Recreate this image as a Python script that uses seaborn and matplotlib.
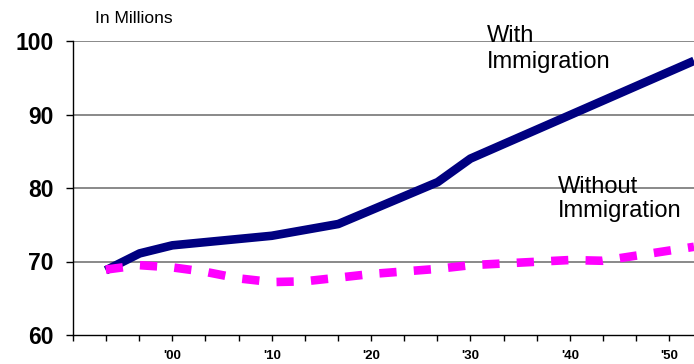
import numpy as np
import pandas as pd
import matplotlib
matplotlib.use('Agg')
import matplotlib.pyplot as plt
import seaborn as sns

# values (population, millions)
with_years = [1993.3, 1996.7, 2000.0, 2010.0, 2016.7, 2026.7, 2030.0, 2052.5]
with_pop = [68.8, 71.1, 72.2, 73.5, 75.1, 80.8, 84.0, 97.3]

without_years = [1993.3, 1996.7, 2000.0, 2003.3, 2006.7, 2010.0, 2013.3, 2016.7,
                 2020.0, 2026.7, 2030.0, 2040.0, 2043.3, 2052.5]
without_pop = [68.9, 69.5, 69.2, 68.6, 67.7, 67.2, 67.3, 67.8,
               68.3, 69.0, 69.5, 70.2, 70.1, 72.0]

decade_labels = ["'00", "'10", "'20", "'30", "'40", "'50"]
y_ticks = [60, 70, 80, 90, 100]

sns.set_style('white')
plt.rcParams['font.family'] = ['Liberation Sans', 'DejaVu Sans']
plt.rcParams['text.color'] = 'black'
plt.rcParams['xtick.color'] = 'black'
plt.rcParams['ytick.color'] = 'black'
plt.rcParams['xtick.labelcolor'] = 'black'
plt.rcParams['ytick.labelcolor'] = 'black'

df_with = pd.DataFrame({'year': with_years, 'pop': with_pop})
df_without = pd.DataFrame({'year': without_years, 'pop': without_pop})

fig = plt.figure(figsize=(6.94, 3.64), dpi=100)
ax = fig.add_axes([73 / 694, 29 / 364, 621 / 694, 294 / 364])

# grid lines
for v in y_ticks[1:]:
    ax.axhline(v, color='#808080', lw=1.3, zorder=1)

sns.lineplot(data=df_with, x='year', y='pop', ax=ax, color='#000080', lw=6.2,
             estimator=None, sort=False, solid_capstyle='butt', zorder=3)
sns.lineplot(data=df_without, x='year', y='pop', ax=ax, color='#FF00FF', lw=6.2,
             estimator=None, sort=False, ls=(0, (2, 2)), zorder=4)

ax.set_xlim(1990, 2052.5)
ax.set_ylim(60, 100)

# ticks: one every third of a decade, labels only on decades
tick_pos = [1990 + i * 10 / 3 for i in range(19)]
tick_lab = []
for i in range(19):
    if i > 0 and i % 3 == 0:
        tick_lab.append(decade_labels[i // 3 - 1])
    else:
        tick_lab.append('')
ax.set_xticks(tick_pos)
ax.set_xticklabels(tick_lab, fontsize=9.5, fontweight='bold', color='black')
ax.set_yticks(y_ticks)
ax.set_yticklabels([str(v) for v in y_ticks], fontsize=16.5, fontweight='bold', color='black')

ax.tick_params(axis='x', direction='out', length=4, width=1, color='black', pad=7)
ax.tick_params(axis='y', direction='out', length=5, width=1, color='black', pad=9)
ax.tick_params(bottom=True, left=True)

for s in ['top', 'right']:
    ax.spines[s].set_visible(False)
for s in ['left', 'bottom']:
    ax.spines[s].set_color('black')
    ax.spines[s].set_linewidth(1)

ax.set_xlabel('')
ax.set_ylabel('')

ax.text(2031.65, 99.9, 'With', fontsize=17, va='baseline', ha='left', clip_on=False, zorder=5, color='black')
ax.text(2031.65, 96.3, 'Immigration', fontsize=17, va='baseline', ha='left', clip_on=False, zorder=5, color='black')
ax.text(2038.8, 79.3, 'Without', fontsize=17, va='baseline', ha='left', clip_on=False, zorder=5, color='black')
ax.text(2038.8, 76.05, 'Immigration', fontsize=17, va='baseline', ha='left', clip_on=False, zorder=5, color='black')

fig.text(95 / 694, 1 - 22.7 / 364, 'In Millions', fontsize=12.5, va='baseline', ha='left', color='black')

fig.savefig('out.png', dpi=100)
